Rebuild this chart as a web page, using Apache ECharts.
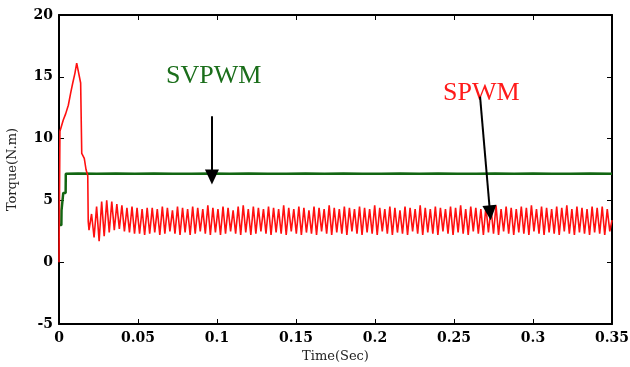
<!DOCTYPE html>
<html>
<head>
<meta charset="utf-8">
<script src="https://cdn.jsdelivr.net/npm/echarts@6/dist/echarts.min.js"></script>
<style>
  html, body { margin: 0; padding: 0; background: #fff; }
  #chart { width: 630px; height: 367px; }
</style>
</head>
<body>
<div id="chart"></div>
<script>
// SVPWM torque (green)
const svpwmTime = [0, 0.0015, 0.0016, 0.0026, 0.0027, 0.0042, 0.0043,
  0.012, 0.024, 0.036, 0.048, 0.060, 0.072, 0.084, 0.096, 0.108, 0.120,
  0.132, 0.144, 0.156, 0.168, 0.180, 0.192, 0.204, 0.216, 0.228, 0.240,
  0.252, 0.264, 0.276, 0.288, 0.300, 0.312, 0.324, 0.336, 0.350];
const svpwmTorque = [3.0, 3.0, 4.2, 4.2, 5.6, 5.6, 7.15,
  7.18, 7.15, 7.18, 7.15, 7.18, 7.15, 7.15, 7.18, 7.15, 7.18,
  7.15, 7.15, 7.18, 7.15, 7.18, 7.15, 7.15, 7.18, 7.15, 7.18,
  7.15, 7.15, 7.18, 7.15, 7.18, 7.15, 7.15, 7.18, 7.15];

// SPWM torque (red): start-up transient then ripple
const spwmTime = [0, 0.0006, 0.0027, 0.0042, 0.0059, 0.0074, 0.0087, 0.0101,
  0.0112, 0.0124, 0.0137, 0.0144, 0.0160, 0.0171, 0.0182, 0.0185,
  0.0190, 0.0206, 0.0222, 0.0238, 0.0254, 0.0270, 0.0286, 0.0302, 0.0318, 0.0334,
  0.0350, 0.0366, 0.0382, 0.0398, 0.0414, 0.0430, 0.0446, 0.0462, 0.0478, 0.0494,
  0.0510, 0.0526, 0.0542, 0.0558, 0.0574, 0.0590, 0.0606, 0.0622, 0.0638, 0.0654,
  0.0670, 0.0686, 0.0702, 0.0718, 0.0734, 0.0750, 0.0766, 0.0782, 0.0798, 0.0814,
  0.0830, 0.0846, 0.0862, 0.0878, 0.0894, 0.0910, 0.0926, 0.0942, 0.0958, 0.0974,
  0.0990, 0.1006, 0.1022, 0.1038, 0.1054, 0.1070, 0.1086, 0.1102, 0.1118, 0.1134,
  0.1150, 0.1166, 0.1182, 0.1198, 0.1214, 0.1230, 0.1246, 0.1262, 0.1278, 0.1294,
  0.1310, 0.1326, 0.1342, 0.1358, 0.1374, 0.1390, 0.1406, 0.1422, 0.1438, 0.1454,
  0.1470, 0.1486, 0.1502, 0.1518, 0.1534, 0.1550, 0.1566, 0.1582, 0.1598, 0.1614,
  0.1630, 0.1646, 0.1662, 0.1678, 0.1694, 0.1710, 0.1726, 0.1742, 0.1758, 0.1774,
  0.1790, 0.1806, 0.1822, 0.1838, 0.1854, 0.1870, 0.1886, 0.1902, 0.1918, 0.1934,
  0.1950, 0.1966, 0.1982, 0.1998, 0.2014, 0.2030, 0.2046, 0.2062, 0.2078, 0.2094,
  0.2110, 0.2126, 0.2142, 0.2158, 0.2174, 0.2190, 0.2206, 0.2222, 0.2238, 0.2254,
  0.2270, 0.2286, 0.2302, 0.2318, 0.2334, 0.2350, 0.2366, 0.2382, 0.2398, 0.2414,
  0.2430, 0.2446, 0.2462, 0.2478, 0.2494, 0.2510, 0.2526, 0.2542, 0.2558, 0.2574,
  0.2590, 0.2606, 0.2622, 0.2638, 0.2654, 0.2670, 0.2686, 0.2702, 0.2718, 0.2734,
  0.2750, 0.2766, 0.2782, 0.2798, 0.2814, 0.2830, 0.2846, 0.2862, 0.2878, 0.2894,
  0.2910, 0.2926, 0.2942, 0.2958, 0.2974, 0.2990, 0.3006, 0.3022, 0.3038, 0.3054,
  0.3070, 0.3086, 0.3102, 0.3118, 0.3134, 0.3150, 0.3166, 0.3182, 0.3198, 0.3214,
  0.3230, 0.3246, 0.3262, 0.3278, 0.3294, 0.3310, 0.3326, 0.3342, 0.3358, 0.3374,
  0.3390, 0.3406, 0.3422, 0.3438, 0.3454, 0.3470, 0.3486, 0.3500];
const spwmTorque = [0, 10.6, 11.5, 12.0, 12.7, 13.7, 14.5, 15.3,
  16.1, 16.2, 14.5, 8.8, 8.4, 7.5, 7.0, 3.3,
  2.6, 3.9, 2.0, 4.5, 1.7, 4.9, 2.1, 5.0, 2.4, 4.9,
  2.6, 4.7, 2.7, 4.6, 2.5, 4.4, 2.4, 4.5, 2.3, 4.4,
  2.3, 4.3, 2.2, 4.4, 2.3, 4.4, 2.4, 4.3, 2.2, 4.5,
  2.3, 4.4, 2.5, 4.2, 2.3, 4.5, 2.2, 4.4, 2.4, 4.3,
  2.2, 4.5, 2.3, 4.4, 2.5, 4.3, 2.3, 4.6, 2.2, 4.4,
  2.4, 4.3, 2.2, 4.5, 2.3, 4.4, 2.5, 4.2, 2.3, 4.5,
  2.2, 4.6, 2.4, 4.3, 2.2, 4.5, 2.3, 4.4, 2.5, 4.3,
  2.3, 4.5, 2.2, 4.4, 2.4, 4.3, 2.3, 4.6, 2.2, 4.4,
  2.5, 4.3, 2.3, 4.5, 2.2, 4.4, 2.4, 4.2, 2.3, 4.5,
  2.2, 4.4, 2.5, 4.3, 2.3, 4.6, 2.2, 4.4, 2.4, 4.3,
  2.3, 4.5, 2.2, 4.4, 2.5, 4.3, 2.3, 4.5, 2.2, 4.4,
  2.4, 4.3, 2.3, 4.6, 2.2, 4.4, 2.5, 4.3, 2.3, 4.5,
  2.2, 4.4, 2.4, 4.2, 2.3, 4.5, 2.2, 4.4, 2.5, 4.3,
  2.3, 4.6, 2.2, 4.4, 2.4, 4.3, 2.3, 4.5, 2.2, 4.4,
  2.5, 4.3, 2.3, 4.5, 2.2, 4.4, 2.4, 4.6, 2.3, 4.3,
  2.2, 4.5, 2.5, 4.4, 2.3, 4.3, 2.2, 4.5, 2.4, 4.4,
  2.3, 4.6, 2.2, 4.3, 2.5, 4.5, 2.3, 4.4, 2.2, 4.3,
  2.4, 4.5, 2.3, 4.4, 2.2, 4.6, 2.5, 4.3, 2.3, 4.5,
  2.2, 4.4, 2.4, 4.3, 2.3, 4.5, 2.2, 4.4, 2.5, 4.6,
  2.3, 4.3, 2.2, 4.5, 2.4, 4.4, 2.3, 4.3, 2.2, 4.5,
  2.4, 4.4, 2.3, 4.5, 2.2, 4.3, 2.5, 3.4];

// annotation arrows, [time, torque] from -> to
const arrowSvpwm = [[0.0968, 11.8], [0.0968, 6.9]];
const arrowSpwm = [[0.2665, 13.4], [0.2728, 4.0]];

const xMin = 0, xMax = 0.35, xStep = 0.05;
const yMin = -5, yMax = 20, yStep = 5;

const zip = (xs, ys) => xs.map((x, i) => [x, ys[i]]);

const tickFont = {
  color: "#000",
  fontFamily: "DejaVu Serif",
  fontWeight: "bold",
  fontSize: 14
};
const nameFont = { color: "#222", fontFamily: "DejaVu Serif", fontSize: 13 };
const axisLine = { onZero: false, lineStyle: { color: "#000", width: 2 } };
const axisTick = { inside: true, length: 5, lineStyle: { color: "#000", width: 1 } };

const chart = echarts.init(document.getElementById("chart"), null, { renderer: "canvas" });

chart.setOption({
  animation: false,
  backgroundColor: "#fff",
  grid: {
    left: 59, right: 18, top: 15, bottom: 43,
    containLabel: false, outerBoundsMode: "none"
  },
  xAxis: [
    {
      type: "value", min: xMin, max: xMax, interval: xStep,
      name: "Time(Sec)", nameLocation: "middle", nameGap: 26,
      nameTextStyle: nameFont,
      axisLine, axisTick,
      axisLabel: { ...tickFont, margin: 7 },
      splitLine: { show: false }
    },
    {
      type: "value", position: "top", min: xMin, max: xMax, interval: xStep,
      axisLine, axisTick,
      axisLabel: { show: false },
      splitLine: { show: false }
    }
  ],
  yAxis: [
    {
      type: "value", min: yMin, max: yMax, interval: yStep,
      name: "Torque(N.m)", nameLocation: "middle", nameGap: 40,
      nameTextStyle: nameFont,
      axisLine, axisTick,
      axisLabel: { ...tickFont, margin: 6 },
      splitLine: { show: false }
    },
    {
      type: "value", position: "right", min: yMin, max: yMax, interval: yStep,
      axisLine, axisTick,
      axisLabel: { show: false },
      splitLine: { show: false }
    }
  ],
  series: [
    {
      name: "SVPWM",
      type: "line",
      data: zip(svpwmTime, svpwmTorque),
      showSymbol: false,
      lineStyle: { color: "#126612", width: 2.5 }
    },
    {
      name: "SPWM",
      type: "line",
      data: zip(spwmTime, spwmTorque),
      showSymbol: false,
      lineStyle: { color: "#ff1010", width: 1.6 }
    },
    {
      name: "arrows",
      type: "line",
      data: [],
      markLine: {
        silent: true,
        symbol: ["none", "triangle"],
        symbolSize: [14, 15],
        label: { show: false },
        lineStyle: { color: "#000", width: 2, type: "solid" },
        data: [
          [{ coord: arrowSvpwm[0] }, { coord: arrowSvpwm[1] }],
          [{ coord: arrowSpwm[0] }, { coord: arrowSpwm[1] }]
        ]
      }
    }
  ],
  graphic: [
    {
      type: "text", left: 166, top: 63,
      style: { text: "SVPWM", fill: "#1b6e1b", font: "26px 'Liberation Serif'" }
    },
    {
      type: "text", left: 443, top: 80,
      style: { text: "SPWM", fill: "#ff1a1a", font: "26px 'Liberation Serif'" }
    }
  ]
});
</script>
</body>
</html>
